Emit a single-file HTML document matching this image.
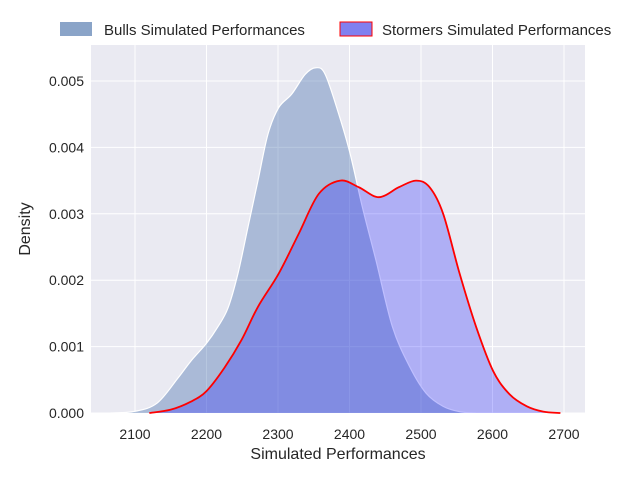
<!DOCTYPE html>
<html><head><meta charset="utf-8"><style>
body{margin:0;background:#fff;font-family:"Liberation Sans","DejaVu Sans",sans-serif;}
</style></head><body>
<svg id="chart" width="640" height="480" xmlns="http://www.w3.org/2000/svg" font-family="Liberation Sans, DejaVu Sans, sans-serif">
<rect x="91" y="45" width="494" height="368" fill="#eaeaf2"/>
<g id="grid"></g>
<g id="marks"></g>
<g id="ticks" font-size="14" fill="#262626"></g>
<text x="338" y="459" font-size="16" text-anchor="middle" fill="#262626">Simulated Performances</text>
<text transform="translate(30,229) rotate(-90)" font-size="16" text-anchor="middle" fill="#262626">Density</text>
<g font-size="15" fill="#262626">
<rect x="60" y="22" width="32" height="14" fill="#8aa4c8"/>
<text x="104" y="35">Bulls Simulated Performances</text>
<rect x="340" y="22" width="32" height="14" fill="#8080f0" stroke="#ff0000" stroke-width="1"/>
<text x="382" y="35">Stormers Simulated Performances</text>
</g>
</svg>
<script>
const xTicks=[2100,2200,2300,2400,2500,2600,2700];
const yTicks=[0,0.001,0.002,0.003,0.004,0.005];
const yTickLabels=["0.000","0.001","0.002","0.003","0.004","0.005"];
const bullsX=[2066,2100,2131,2160,2178,2200,2216,2230,2244,2258,2272,2286,2301,2319,2338,2353,2366,2385,2401,2418,2437,2460,2484,2507,2531,2554,2577];
const bullsY=[0,0.000025,0.00015,0.000525,0.00078,0.00105,0.0013,0.00158,0.0021,0.0028,0.0035,0.0042,0.0046,0.0048,0.0051,0.0052,0.0051,0.0045,0.0039,0.0031,0.0023,0.0013,0.0007,0.0003,0.0001,0.00002,0];
const stormX=[2120,2150,2178,2200,2225,2249,2272,2301,2329,2357,2387,2413,2441,2469,2493,2512,2531,2554,2577,2601,2624,2648,2671,2695];
const stormY=[0,0.00005,0.00017,0.00033,0.00068,0.0011,0.0016,0.0021,0.0027,0.0033,0.0035,0.0034,0.00325,0.0034,0.0035,0.0034,0.003,0.0021,0.0013,0.00063,0.00028,0.0001,0.00002,0];
const X=v=>135+(v-2100)*71.5/100;
const Y=v=>413-v*66.4/0.001;
const NS="http://www.w3.org/2000/svg";
function mk(t,a,p){const e=document.createElementNS(NS,t);for(const k in a)e.setAttribute(k,a[k]);p.appendChild(e);return e;}
const grid=document.getElementById('grid'),ticks=document.getElementById('ticks'),marks=document.getElementById('marks');
xTicks.forEach(v=>{const l=mk('line',{x1:X(v),x2:X(v),y1:45,y2:413,stroke:'#fff','stroke-width':1},grid);


const t=mk('text',{x:X(v),y:439,'text-anchor':'middle'},ticks);t.textContent=v;

});
yTicks.forEach((v,i)=>{const l=mk('line',{x1:91,x2:585,y1:Y(v),y2:Y(v),stroke:'#fff','stroke-width':1},grid);


const t=mk('text',{x:84,y:Y(v)+5,'text-anchor':'end'},ticks);t.textContent=yTickLabels[i];

});
function path(xs,ys){const p=xs.map((x,i)=>[X(x),Y(ys[i])]);let d='M'+p[0][0]+','+p[0][1];
for(let i=0;i<p.length-1;i++){const p0=p[Math.max(0,i-1)],p1=p[i],p2=p[i+1],p3=p[Math.min(p.length-1,i+2)];
d+=' C'+(p1[0]+(p2[0]-p0[0])/6)+','+(p1[1]+(p2[1]-p0[1])/6)+' '+(p2[0]-(p3[0]-p1[0])/6)+','+(p2[1]-(p3[1]-p1[1])/6)+' '+p2[0]+','+p2[1];}
return d;}
const bd=path(bullsX,bullsY),sd=path(stormX,stormY);
const bf=mk('path',{d:bd+' Z',fill:'rgb(76,114,176)','fill-opacity':0.4,stroke:'none'},marks);


const bl=mk('path',{d:bd,fill:'none',stroke:'#fff','stroke-width':1.2},marks);


const sf=mk('path',{d:sd+' Z',fill:'rgb(20,20,255)','fill-opacity':0.27,stroke:'none'},marks);


const sl=mk('path',{d:sd,fill:'none',stroke:'#ff0000','stroke-width':1.8},marks);


</script>
</body></html>
